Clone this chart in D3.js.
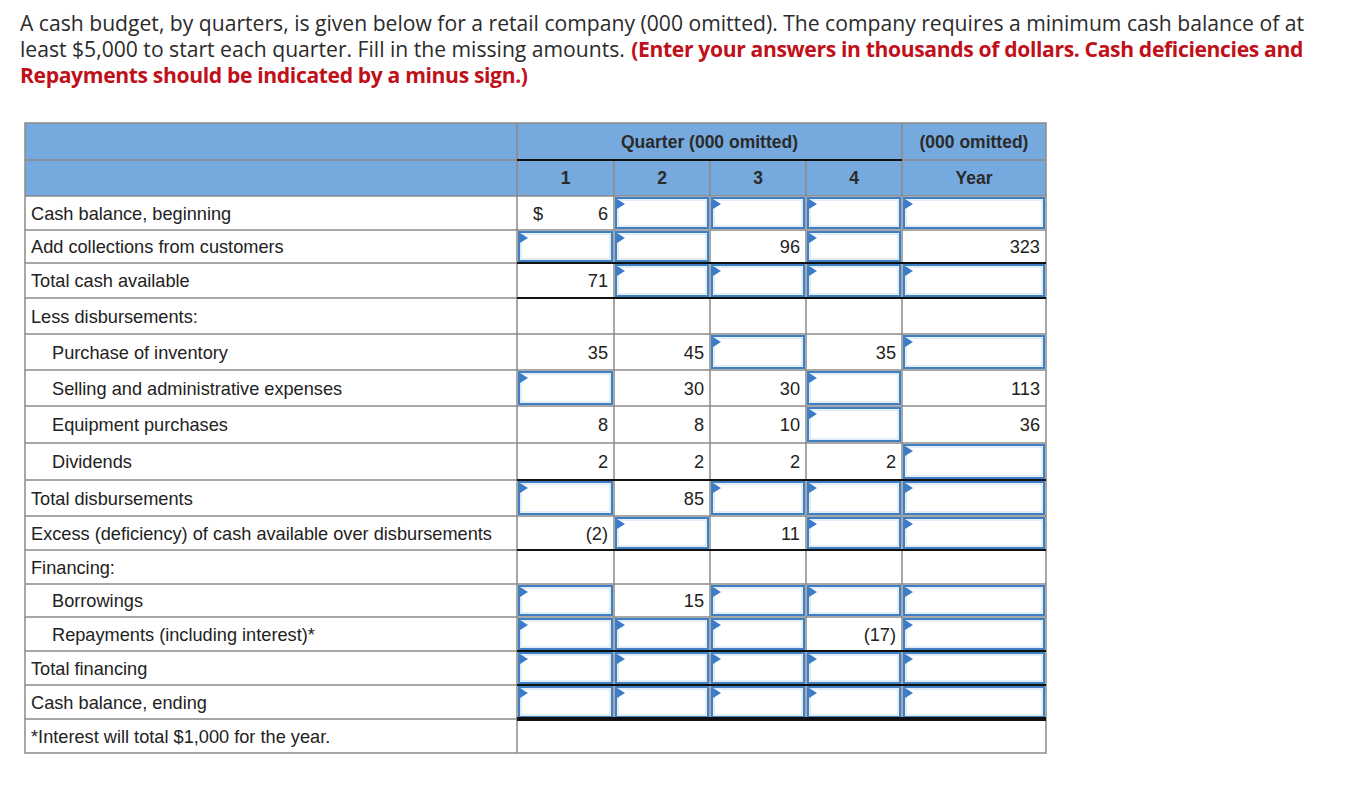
<!DOCTYPE html>
<html>
<head>
<meta charset="utf-8">
<script src="https://cdn.jsdelivr.net/npm/d3@7"></script>
<style>
  body { margin: 0; background: #fff; }
  svg text { font-family: "Liberation Sans", Arial, sans-serif; }
  svg text.intro { font-family: "Open Sans", Lato, sans-serif; fill: #2b2b2b; }
  svg text.intro.red { fill: #c0101a; font-weight: bold; }
</style>
</head>
<body>
<svg id="chart" width="1360" height="796"></svg>
<script>
// ---- data ----
var rowLabels = [
  "Cash balance, beginning",
  "Add collections from customers",
  "Total cash available",
  "Less disbursements:",
  "Purchase of inventory",
  "Selling and administrative expenses",
  "Equipment purchases",
  "Dividends",
  "Total disbursements",
  "Excess (deficiency) of cash available over disbursements",
  "Financing:",
  "Borrowings",
  "Repayments (including interest)*",
  "Total financing",
  "Cash balance, ending"
];
var rowIndent = [0, 0, 0, 0, 1, 1, 1, 1, 0, 0, 0, 1, 1, 0, 0];
var colLabels = ["1", "2", "3", "4", "Year"];
// null = answer box, "" = blank cell
var q1Values   = ["6", null, "71", "", "35", null, "8", "2", null, "(2)", "", null, null, null, null];
var q2Values   = [null, null, null, "", "45", "30", "8", "2", "85", null, "", "15", null, null, null];
var q3Values   = [null, "96", null, "", null, "30", "10", "2", null, "11", "", null, null, null, null];
var q4Values   = [null, null, null, "", "35", null, null, "2", null, null, "", null, "(17)", null, null];
var yearValues = [null, "323", null, "", null, "113", "36", null, null, null, "", null, null, null, null];
var footnote = "*Interest will total $1,000 for the year.";

var columns = [q1Values, q2Values, q3Values, q4Values, yearValues];

// ---- layout ----
var svg = d3.select("#chart");
var left = 25, labelRight = 517;
var colEdges = [517, 614, 710, 806, 902, 1046];
var headTop = 123, headMid = 160, bodyTop = 196;
var rowEdges = [196, 230, 263, 298, 334, 370, 406, 443, 480, 516, 550, 584, 617, 651, 685, 719, 753];
var gridColor = "#8a8a8a", headFill = "#76aadf", boxBlue = "#3f7fc4";
var fs = 18.2, hfs = 17.5;
// rows with black rule above (value columns only)
var blackAbove = [2, 3, 8, 10, 13, 14];

// intro text: one text element per line
var introLine = function(x, y, t, red, size) {
  return svg.append("text").attr("class", red ? "intro red" : "intro")
    .attr("x", x).attr("y", y).style("font-size", size + "px").text(t);
};
var l1 = introLine(20, 31, "A cash budget, by quarters, is given below for a retail company (000 omitted). The company requires a minimum cash balance of at", false, 20);
var w1 = l1.node().getComputedTextLength();
var ifs = w1 > 0 ? Math.min(22, 20 * 1285 / w1) : 19.5;
l1.style("font-size", ifs + "px");
var l2a = introLine(20, 57, "least $5,000 to start each quarter. Fill in the missing amounts.", false, ifs);
var x2 = 20 + l2a.node().getComputedTextLength() + ifs * 0.3;
var l2b = introLine(x2, 57, "(Enter your answers in thousands of dollars. Cash deficiencies and", true, ifs);
var l3 = introLine(20, 83, "Repayments should be indicated by a minus sign.)", true, ifs);
// tighten the bold red text a little so the second line ends where it does in the picture
var w2 = l2b.node().getComputedTextLength();
var ls = (1303 - x2 - w2) / l2b.text().length;
if (ls < 0) {
  ls = Math.max(ls, -0.8);
  l2b.style("letter-spacing", ls + "px");
  l3.style("letter-spacing", ls + "px");
}

// header
var head = svg.append("g");
head.append("rect").attr("x", left).attr("y", headTop)
  .attr("width", colEdges[5] - left).attr("height", bodyTop - headTop)
  .attr("fill", headFill);

var hdrText = function(x, y, t) {
  head.append("text").attr("x", x).attr("y", y).attr("text-anchor", "middle")
    .attr("font-size", hfs).attr("font-weight", "bold").attr("fill", "#2a2a2a").text(t);
};
hdrText((colEdges[0] + colEdges[4]) / 2, 148, "Quarter (000 omitted)");
hdrText((colEdges[4] + colEdges[5]) / 2, 148, "(000 omitted)");
colLabels.forEach(function(c, i) {
  hdrText((colEdges[i] + colEdges[i + 1]) / 2, 184, c);
});

// body
var body = svg.append("g");
var y = function(i) { return rowEdges[i]; };
var h = function(i) { return rowEdges[i + 1] - rowEdges[i]; };

rowLabels.forEach(function(lab, i) {
  body.append("text")
    .attr("x", left + 6 + rowIndent[i] * 21)
    .attr("y", y(i) + h(i) / 2 + 6.5)
    .attr("font-size", fs).attr("fill", "#222").text(lab);
});
body.append("text").attr("x", left + 6).attr("y", y(15) + h(15) / 2 + 6.5)
  .attr("font-size", fs).attr("fill", "#222").text(footnote);

// grid lines
var grid = svg.append("g").attr("stroke", gridColor).attr("stroke-width", 1.5);
grid.append("line").attr("x1", left).attr("x2", colEdges[5]).attr("y1", headMid).attr("y2", headMid);
grid.append("line").attr("x1", left).attr("x2", colEdges[5]).attr("y1", bodyTop).attr("y2", bodyTop);
rowEdges.slice(1, -1).forEach(function(e) {
  grid.append("line").attr("x1", left).attr("x2", colEdges[5]).attr("y1", e).attr("y2", e);
});
// vertical lines
grid.append("line").attr("x1", labelRight).attr("x2", labelRight).attr("y1", headTop).attr("y2", rowEdges[16]);
[1, 2, 3].forEach(function(k) {
  grid.append("line").attr("x1", colEdges[k]).attr("x2", colEdges[k])
    .attr("y1", headMid).attr("y2", rowEdges[15]);
});
grid.append("line").attr("x1", colEdges[4]).attr("x2", colEdges[4]).attr("y1", headTop).attr("y2", rowEdges[15]);
grid.append("rect").attr("x", left).attr("y", headTop)
  .attr("width", colEdges[5] - left).attr("height", rowEdges[16] - headTop)
  .attr("fill", "none");

// cells
columns.forEach(function(vals, c) {
  var x0 = colEdges[c], x1 = colEdges[c + 1];
  vals.forEach(function(v, r) {
    if (v === null) {
      var bx = x0 + 2, by = y(r) + 2, bw = x1 - x0 - 4, bh = h(r) - 4;
      body.append("rect").attr("x", bx).attr("y", by).attr("width", bw).attr("height", bh)
        .attr("fill", "#fff").attr("stroke", boxBlue).attr("stroke-width", 2);
      body.append("rect").attr("x", bx + 2).attr("y", by + 2).attr("width", bw - 4).attr("height", bh - 4)
        .attr("fill", "none").attr("stroke", "#c8dcf0").attr("stroke-width", 1);
      body.append("path")
        .attr("d", "M" + (bx + 1) + "," + (by + 1) + " l8,5 l-8,5 z")
        .attr("fill", "#3b7bc8");
    } else if (v !== "") {
      body.append("text").attr("x", x1 - 6).attr("y", y(r) + h(r) / 2 + 6.5)
        .attr("text-anchor", "end").attr("font-size", fs).attr("fill", "#222").text(v);
    }
  });
});
// dollar sign on first amount
body.append("text").attr("x", colEdges[0] + 16).attr("y", y(0) + h(0) / 2 + 6.5)
  .attr("font-size", fs).attr("fill", "#222").text("$");

// black rules
var rules = svg.append("g").attr("stroke", "#111");
rules.append("line").attr("x1", colEdges[0]).attr("x2", colEdges[4])
  .attr("y1", headMid).attr("y2", headMid).attr("stroke-width", 2);
blackAbove.forEach(function(r) {
  rules.append("line").attr("x1", colEdges[0]).attr("x2", colEdges[5])
    .attr("y1", y(r)).attr("y2", y(r)).attr("stroke-width", 2);
});
rules.append("line").attr("x1", colEdges[0]).attr("x2", colEdges[5])
  .attr("y1", y(15)).attr("y2", y(15)).attr("stroke-width", 4);
</script>
</body>
</html>
